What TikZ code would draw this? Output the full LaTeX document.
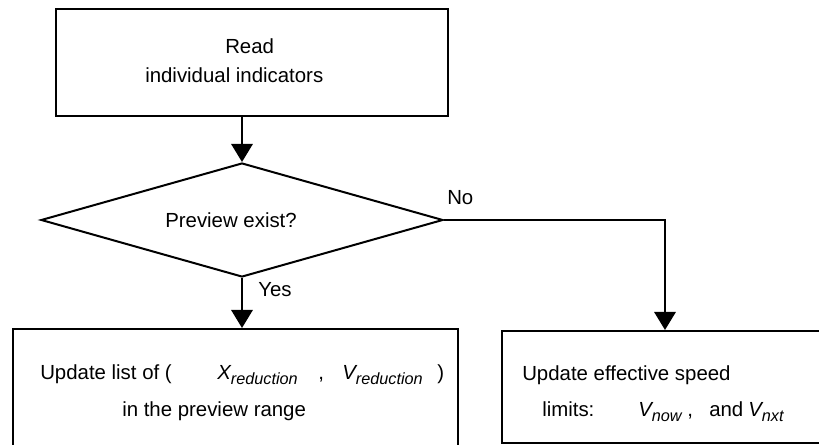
\documentclass[tikz,border=0pt]{standalone}
\usepackage{fontspec}
\setmainfont{Liberation Sans}
\usetikzlibrary{arrows.meta,shapes.geometric}
\newcommand{\sbx}[1]{\raisebox{-3.5pt}{\fontsize{12.2}{13}\selectfont\itshape #1}}
\begin{document}
\begin{tikzpicture}[x=0.75pt,y=-0.75pt,font=\fontsize{15.3}{18}\selectfont,
  box/.style={draw,line width=1.5pt,inner sep=0pt},
  decision/.style={draw,diamond,line width=1.5pt,inner sep=0pt,shape aspect=3.526},
  lbl/.style={anchor=base west,inner sep=0pt},
  flow/.style={line width=1.5pt,-{Triangle[width=16pt,length=13.5pt]}}]
\useasboundingbox (0,0) rectangle (819,445);
\node[box,minimum width=294pt,minimum height=80.25pt] (top) at (252,62.5) {};
\node[decision,minimum width=301.5pt,minimum height=85.5pt] (dia) at (242,220) {};
\node[box,minimum width=333.75pt,minimum height=88.5pt] (left) at (235.5,388) {};
\node[box,minimum width=244.5pt,minimum height=84pt] (right) at (665,387) {};
\draw[flow] (dia.north |- top.south) -- (dia.north);
\draw[flow] (dia.south) -- (dia.south |- left.north);
\draw[flow] (dia.east) -| (right.north);
\node[lbl] (t1) at (225,54) {Read};
\node[lbl] (t2) at (145,83) {individual indicators};
\node[lbl] (q) at (165,228) {Preview exist?};
\node[lbl] (no) at (447,205) {No};
\node[lbl] (yes) at (258,297) {Yes};
\node[lbl] (l1) at (40,380) {Update list of (};
\node[lbl] (l2) at (217,380) {\itshape X\sbx{reduction}};
\node[lbl] (l3) at (318,380) {,};
\node[lbl] (l4) at (342,380) {\itshape V\sbx{reduction}};
\node[lbl] (l5) at (437,380) {)};
\node[lbl] (l6) at (122,417) {in the preview range};
\node[lbl] (r1) at (522,381) {Update effective speed};
\node[lbl] (r2) at (542,417) {limits:};
\node[lbl] (r3) at (638,417) {\itshape V\sbx{now}};
\node[lbl] (r4) at (687,417) {,};
\node[lbl] (r5) at (709,417) {and};
\node[lbl] (r6) at (748,417) {\itshape V\sbx{nxt}};
\end{tikzpicture}
\end{document}
